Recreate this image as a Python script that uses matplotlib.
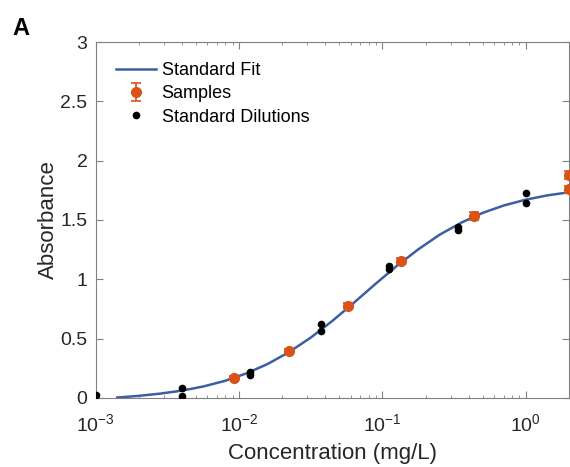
import matplotlib
matplotlib.use("Agg")
import matplotlib.pyplot as plt
import numpy as np

plt.rcParams['font.family'] = ['Liberation Sans', 'DejaVu Sans']

# standard dilutions (duplicates)
std_conc = [0.001, 0.004, 0.004, 0.012, 0.012, 0.037, 0.037,
            0.111, 0.111, 0.335, 0.335, 1.0, 1.0]
std_abs = [0.025, 0.080, 0.015, 0.216, 0.196, 0.620, 0.560,
           1.110, 1.085, 1.443, 1.415, 1.730, 1.645]

# samples, mean and error
smp_conc = [0.0092, 0.0222, 0.058, 0.135, 0.438, 2.0, 2.0]
smp_abs = [0.171, 0.396, 0.778, 1.157, 1.533, 1.879, 1.758]
smp_err = [0.015, 0.015, 0.02, 0.025, 0.035, 0.03, 0.03]

# standard fit curve, log10(conc) vs absorbance
fit_logc = [-2.85, -2.70, -2.55, -2.40, -2.25, -2.10, -1.95, -1.80, -1.65,
            -1.50, -1.35, -1.20, -1.05, -0.90, -0.75, -0.60, -0.45, -0.30,
            -0.15, 0.00, 0.15, 0.30]
fit_abs = [0.003, 0.017, 0.036, 0.061, 0.096, 0.143, 0.206, 0.286, 0.387,
           0.508, 0.648, 0.801, 0.959, 1.112, 1.252, 1.376, 1.477, 1.560,
           1.623, 1.671, 1.707, 1.733]

blue = '#3b5fa3'
orange = '#d95319'
gray = '#808080'
txt = '#262626'

fig = plt.figure(figsize=(5.7, 4.67), dpi=100)
ax = fig.add_axes([0.168, 0.148, 0.830, 0.762])

h_fit, = ax.plot(10 ** np.array(fit_logc), fit_abs, color=blue, lw=1.8, zorder=2)
h_smp = ax.errorbar(smp_conc, smp_abs, yerr=smp_err, fmt='o', color=orange, ms=7,
                    capsize=3.5, elinewidth=1.2, capthick=1.2, zorder=3)
h_std, = ax.plot(std_conc, std_abs, 'o', color='black', ms=4.5, ls='none', zorder=4)

ax.set_xscale('log')
ax.set_xlim(1e-3, 2)
ax.set_ylim(0, 3)
ax.set_yticks([0, 0.5, 1, 1.5, 2, 2.5, 3])
ax.set_yticklabels(['0', '0.5', '1', '1.5', '2', '2.5', '3'])

for s in ax.spines.values():
    s.set_color(gray)
    s.set_linewidth(0.8)
ax.tick_params(which='both', direction='in', top=True, right=True, color=gray,
               labelcolor=txt, labelsize=14)
ax.tick_params(axis='y', pad=6)
ax.tick_params(axis='x', pad=11)
ax.tick_params(which='major', length=5)
ax.tick_params(which='minor', length=2.5)

ax.set_xlabel('Concentration (mg/L)', fontsize=16, color=txt, labelpad=6)
ax.set_ylabel('Absorbance', fontsize=16, color=txt, labelpad=1)

ax.legend([h_fit, h_smp, h_std], ['Standard Fit', 'Samples', 'Standard Dilutions'],
          loc='upper left', frameon=False, fontsize=13, handlelength=2.25,
          borderaxespad=0.7, labelspacing=0.35, handletextpad=0.3)

fig.text(0.021, 0.925, 'A', fontsize=17, fontweight='bold', color='black')

fig.savefig('out.png', dpi=100)
